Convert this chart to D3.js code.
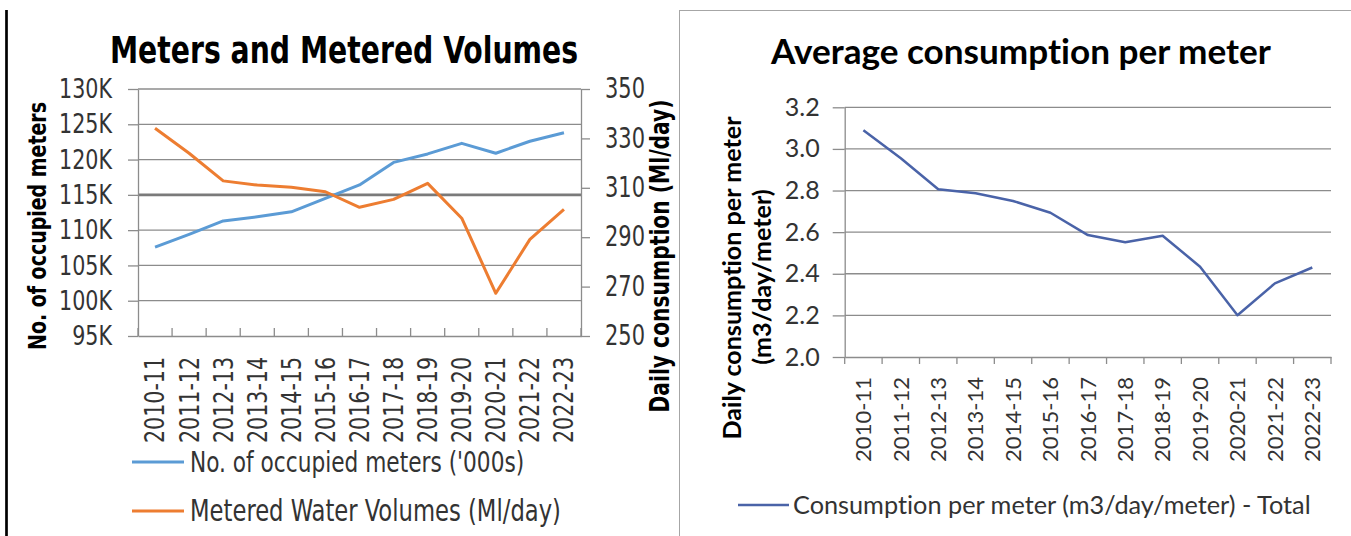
<!DOCTYPE html>
<html><head><meta charset="utf-8">
<script src="https://cdn.jsdelivr.net/npm/d3@7"></script>
<style>body{margin:0;background:#fff}svg{display:block;font-variant-ligatures:none}text{font-variant-ligatures:none;font-feature-settings:"liga" 0,"clig" 0}</style>
</head><body><svg id="c" width="1351" height="536"></svg>
<script>
// ---------- data ----------
const categories = ["2010-11","2011-12","2012-13","2013-14","2014-15","2015-16","2016-17","2017-18","2018-19","2019-20","2020-21","2021-22","2022-23"];
const meters = [107.6, 109.4, 111.3, 111.9, 112.6, 114.5, 116.4, 119.6, 120.8, 122.3, 120.9, 122.6, 123.8];      // '000s
const volumes = [334.1, 324.0, 312.8, 311.1, 310.2, 308.4, 302.1, 305.3, 311.8, 297.7, 267.3, 289.1, 301.3];    // Ml/day
const perMeter = [3.09, 2.955, 2.806, 2.787, 2.75, 2.693, 2.586, 2.551, 2.583, 2.434, 2.201, 2.354, 2.43];      // m3/day/meter
const leftTicks = [95, 100, 105, 110, 115, 120, 125, 130];
const rightTicks = [250, 270, 290, 310, 330, 350];
const perMeterTicks = [2.0, 2.2, 2.4, 2.6, 2.8, 3.0, 3.2];

// ---------- helpers ----------
const svg = d3.select("#c");
const LF = "'DejaVu Sans Condensed','DejaVu Sans',sans-serif";
const RF = "Lato,'Open Sans',sans-serif";
const STRETCH = 1.18; // left panel glyphs are taller than they are wide
function fit(sel, target, base) {
  base = base || 20;
  sel.style("font-size", base + "px");
  const w = sel.node().getComputedTextLength();
  const s = base * target / w;
  sel.style("font-size", s + "px");
  return s;
}
const GRID = "#8c8c8c";

// ---------- frames ----------
svg.append("line").attr("x1", 6.5).attr("x2", 6.5).attr("y1", 10).attr("y2", 536)
  .attr("stroke", "#000").attr("stroke-width", 2.7);
svg.append("rect").attr("x", 679.5).attr("y", 10.5).attr("width", 700).attr("height", 600)
  .attr("fill", "none").attr("stroke", "#a6a6a6").attr("stroke-width", 1);

// ---------- left chart ----------
const gL = svg.append("g");
const xL = d3.scaleBand().domain(categories).range([138, 581]);
const yL = d3.scaleLinear().domain([95, 130]).range([336, 89]);
const yR = d3.scaleLinear().domain([250, 350]).range([336, 89]);

gL.selectAll("line.grid").data(leftTicks.filter(d => d > 95)).join("line")
  .attr("x1", 138).attr("x2", 581).attr("y1", d => yL(d)).attr("y2", d => yL(d))
  .attr("stroke", d => d === 115 ? "#7a7a7a" : GRID)
  .attr("stroke-width", d => d === 115 ? 2.6 : 1.3);

const axL = gL.append("g").attr("transform", "translate(138,0)")
  .call(d3.axisLeft(yL).tickValues(leftTicks).tickFormat(d => d + "K").tickSize(10).tickPadding(16).tickSizeOuter(0));
const axR = gL.append("g").attr("transform", "translate(581,0)")
  .call(d3.axisRight(yR).tickValues(rightTicks).tickSize(9).tickPadding(15).tickSizeOuter(0));
const axBL = gL.append("g").attr("transform", "translate(0,336)")
  .call(d3.axisBottom(xL).tickSize(0).tickSizeOuter(0));
[axL, axR, axBL].forEach(a => {
  a.select(".domain").attr("stroke", GRID).attr("stroke-width", 1.3);
  a.selectAll(".tick line").attr("stroke", GRID).attr("stroke-width", 1.3);
  a.selectAll("text").attr("fill", "#333").style("font-family", LF);
});
const ls = fit(axL.selectAll(".tick text").filter(d => d === 130), 53);
axL.selectAll(".tick text").style("font-size", ls + "px").attr("transform", `scale(1,${STRETCH})`);
const rs = fit(axR.selectAll(".tick text").filter(d => d === 350), 40);
axR.selectAll(".tick text").style("font-size", rs + "px").attr("transform", `scale(1,${STRETCH})`);
axBL.selectAll(".tick text").attr("transform", `rotate(-90) scale(1,${STRETCH})`).attr("text-anchor", "end")
  .attr("x", -21).attr("y", 0).attr("dy", "0.35em");
const bs = fit(axBL.selectAll(".tick text").filter(d => d === "2010-11"), 86);
axBL.selectAll(".tick text").style("font-size", bs + "px");
// category boundary ticks (pointing up into plot)
gL.selectAll("line.xt").data(categories.map(c => xL(c)).concat([xL.range()[1]])).join("line")
  .attr("x1", d => d).attr("x2", d => d).attr("y1", 336).attr("y2", 328)
  .attr("stroke", GRID).attr("stroke-width", 1.3);

const cx = c => xL(c) + xL.bandwidth() / 2;
gL.append("path").datum(meters)
  .attr("d", d3.line().x((d, i) => cx(categories[i])).y(d => yL(d)))
  .attr("fill", "none").attr("stroke", "#5b9bd5").attr("stroke-width", 3).attr("stroke-linejoin", "round");
gL.append("path").datum(volumes)
  .attr("d", d3.line().x((d, i) => cx(categories[i])).y(d => yR(d)))
  .attr("fill", "none").attr("stroke", "#ed7d31").attr("stroke-width", 3).attr("stroke-linejoin", "round");

const tL = gL.append("text").attr("transform", `translate(344,63) scale(1,${STRETCH})`).attr("text-anchor", "middle")
  .style("font-family", LF).style("font-weight", "bold").attr("fill", "#000").text("Meters and Metered Volumes");
fit(tL, 468, 26);
const ylab = gL.append("text").attr("transform", `translate(37,226) rotate(-90) scale(1,${STRETCH})`).attr("text-anchor", "middle")
  .attr("dy", "0.35em").style("font-family", LF).style("font-weight", "bold").text("No. of occupied meters");
fit(ylab, 248);
const yrlab = gL.append("text").attr("transform", `translate(660,256) rotate(-90) scale(1,${STRETCH})`).attr("text-anchor", "middle")
  .attr("dy", "0.35em").style("font-family", LF).style("font-weight", "bold").text("Daily consumption (Ml/day)");
fit(yrlab, 313);

const legL = [
  { name: "No. of occupied meters ('000s)", color: "#5b9bd5", y: 462, w: 334 },
  { name: "Metered Water Volumes (Ml/day)", color: "#ed7d31", y: 511, w: 371 }
];
legL.forEach(l => {
  gL.append("line").attr("x1", 132).attr("x2", 184).attr("y1", l.y).attr("y2", l.y)
    .attr("stroke", l.color).attr("stroke-width", 3);
  const t = gL.append("text").attr("transform", `translate(190,${l.y}) scale(1,${STRETCH})`).attr("dy", "0.35em")
    .style("font-family", LF).attr("fill", "#333").text(l.name);
  fit(t, l.w);
});

// ---------- right chart ----------
const gR = svg.append("g");
const xR = d3.scaleBand().domain(categories).range([844.7, 1331]);
const yP = d3.scaleLinear().domain([2.0, 3.2]).range([357, 107.3]);

gR.selectAll("line.grid").data(perMeterTicks.filter(d => d > 2.0)).join("line")
  .attr("x1", 844.7).attr("x2", 1331).attr("y1", d => yP(d)).attr("y2", d => yP(d))
  .attr("stroke", GRID).attr("stroke-width", 1.3);
const axP = gR.append("g").attr("transform", "translate(844.7,0)")
  .call(d3.axisLeft(yP).tickValues(perMeterTicks).tickFormat(d3.format(".1f")).tickSize(12).tickPadding(13).tickSizeOuter(0));
const axBR = gR.append("g").attr("transform", "translate(0,357)")
  .call(d3.axisBottom(xR).tickSize(0).tickSizeOuter(0));
[axP, axBR].forEach(a => {
  a.select(".domain").attr("stroke", GRID).attr("stroke-width", 1.3);
  a.selectAll(".tick line").attr("stroke", GRID).attr("stroke-width", 1.3);
  a.selectAll("text").attr("fill", "#333").style("font-family", RF);
});
const ps = fit(axP.selectAll(".tick text").filter(d => d === 3.2), 35);
axP.selectAll(".tick text").style("font-size", ps + "px");
axBR.selectAll(".tick text").attr("transform", "rotate(-90)").attr("text-anchor", "end")
  .attr("x", -20).attr("y", 0).attr("dy", "0.35em");
const bs2 = fit(axBR.selectAll(".tick text").filter(d => d === "2010-11"), 85);
axBR.selectAll(".tick text").style("font-size", bs2 + "px");
gR.selectAll("line.xt").data(categories.map(c => xR(c)).concat([xR.range()[1]])).join("line")
  .attr("x1", d => d).attr("x2", d => d).attr("y1", 357).attr("y2", 364)
  .attr("stroke", GRID).attr("stroke-width", 1.3);

gR.append("path").datum(perMeter)
  .attr("d", d3.line().x((d, i) => xR(categories[i]) + xR.bandwidth() / 2).y(d => yP(d)))
  .attr("fill", "none").attr("stroke", "#4a63a8").attr("stroke-width", 2.5).attr("stroke-linejoin", "round");

const tR = gR.append("text").attr("x", 1021).attr("y", 64).attr("text-anchor", "middle")
  .style("font-family", RF).style("font-weight", "bold").text("Average consumption per meter");
fit(tR, 500, 28);
const yl1 = gR.append("text").attr("transform", "translate(732,278) rotate(-90)").attr("text-anchor", "middle")
  .attr("dy", "0.35em").style("font-family", RF).style("font-weight", "bold").text("Daily consumption per meter");
const yls = fit(yl1, 323);
gR.append("text").attr("transform", "translate(762,277) rotate(-90)").attr("text-anchor", "middle")
  .attr("dy", "0.35em").style("font-family", RF).style("font-weight", "bold").style("font-size", yls + "px")
  .text("(m3/day/meter)");

gR.append("line").attr("x1", 738).attr("x2", 789).attr("y1", 505).attr("y2", 505)
  .attr("stroke", "#4a63a8").attr("stroke-width", 2.5);
const lr = gR.append("text").attr("x", 793).attr("y", 505).attr("dy", "0.35em")
  .style("font-family", RF).attr("fill", "#333").text("Consumption per meter (m3/day/meter) - Total");
fit(lr, 518);
</script></body></html>
